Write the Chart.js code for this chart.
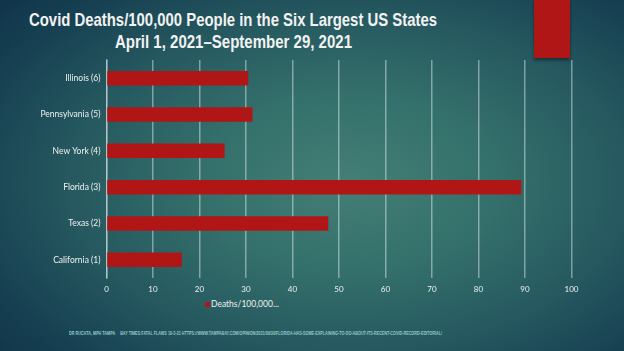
<!DOCTYPE html>
<html>
<head>
<meta charset="utf-8">
<script src="https://cdn.jsdelivr.net/npm/chart.js@4/dist/chart.umd.min.js"></script>
<style>
  html, body { margin: 0; padding: 0; }
  body {
    width: 624px; height: 351px; overflow: hidden; position: relative;
    background: radial-gradient(ellipse 75% 80% at 56% 52%, #437f75 0%, #35716c 30%, #25585f 60%, #163f51 85%, #10344a 100%);
    font-family: "Liberation Sans Narrow", "Liberation Sans", sans-serif;
  }
  #deco { position: absolute; left: 534px; top: 0; width: 36px; height: 58px; background: #b01616;
          box-shadow: 0 2px 3px rgba(0,0,0,0.45); }
  .t { position: absolute; white-space: nowrap; color: #f2f2f2; transform-origin: 0 0; }
  #title1, #title2 { font-weight: bold; font-size: 19px; line-height: 19px; }
  #title1 { top: 10px; }
  #title2 { top: 32px; }
  #footer { top: 330px; font-size: 6px; line-height: 6px; font-weight: bold; color: #94c9cb; }
  #legend { position: absolute; left: 205px; top: 299px; font-family: Lato, sans-serif; font-size: 8.5px; color: #f0f0f0; line-height: 10px; white-space: nowrap; }
  #legend span.box { display: inline-block; width: 5px; height: 5px; background: #b01616; margin-right: 1px; vertical-align: 0px; }
  #wrap { position: absolute; left: 0; top: 0; width: 624px; height: 351px; }
</style>
</head>
<body>
<div id="deco"></div>
<div id="title1" class="t" data-x="29" data-w="408">Covid Deaths/100,000 People in the Six Largest US States</div>
<div id="title2" class="t" data-x="115" data-w="237">April 1, 2021–September 29, 2021</div>
<div id="footer" class="t" data-x="69" data-w="373">DR RUCHTA, MPH TAMPA &nbsp;&nbsp;&nbsp; BAY TIMES:FATAL FLAWS 10-3-21 HTTPS://WWW.TAMPABAY.COM/OPINION/2021/09/30/FLORIDA-HAS-SOME-EXPLAINING-TO-DO-ABOUT-ITS-RECENT-COVID-RECORD-EDITORIAL/</div>
<div id="legend"><span class="box"></span>Deaths/100,000...</div>
<div id="wrap"><canvas id="c" width="624" height="351"></canvas></div>
<script>
const categories = ["Illinois (6)", "Pennsylvania (5)", "New York (4)", "Florida (3)", "Texas (2)", "California (1)"];
const deaths = [30.5, 31.4, 25.4, 89.2, 47.7, 16.2];
const seriesName = "Deaths/100,000...";
const xTicks = [0, 10, 20, 30, 40, 50, 60, 70, 80, 90, 100];

// fit header/footer text widths
document.querySelectorAll('.t').forEach(el => {
  const w = el.getBoundingClientRect().width;
  const target = parseFloat(el.dataset.w);
  el.style.left = el.dataset.x + 'px';
  el.style.transform = 'scaleX(' + (target / w) + ')';
});

const gridCol = 'rgba(235,245,245,0.45)';
new Chart(document.getElementById('c'), {
  type: 'bar',
  data: {
    labels: categories,
    datasets: [{
      label: seriesName,
      data: deaths,
      backgroundColor: '#b01616',
      borderWidth: 0,
      categoryPercentage: 0.8,
      barPercentage: 0.5
    }]
  },
  options: {
    indexAxis: 'y',
    responsive: false,
    animation: false,
    layout: { padding: { top: 60, right: 52.5, bottom: 0, left: 0 } },
    plugins: { legend: { display: false }, title: { display: false }, tooltip: { enabled: false } },
    scales: {
      x: {
        min: 0, max: 100,
        afterFit: s => { s.height = 73; },
        afterBuildTicks: s => { s.ticks = xTicks.map(v => ({ value: v })); },
        grid: { color: gridCol, lineWidth: 1.5, drawTicks: false },
        border: { display: false },
        ticks: { color: '#eef2f2', font: { family: 'Lato', size: 8 }, padding: 7 }
      },
      y: {
        afterFit: s => { s.width = 106.5; },
        grid: { display: false, drawTicks: false },
        border: { display: true, color: gridCol, width: 1.5 },
        ticks: { color: '#eef2f2', font: { family: 'Lato', size: 8.5 }, padding: 6 }
      }
    }
  }
});
</script>
</body>
</html>
